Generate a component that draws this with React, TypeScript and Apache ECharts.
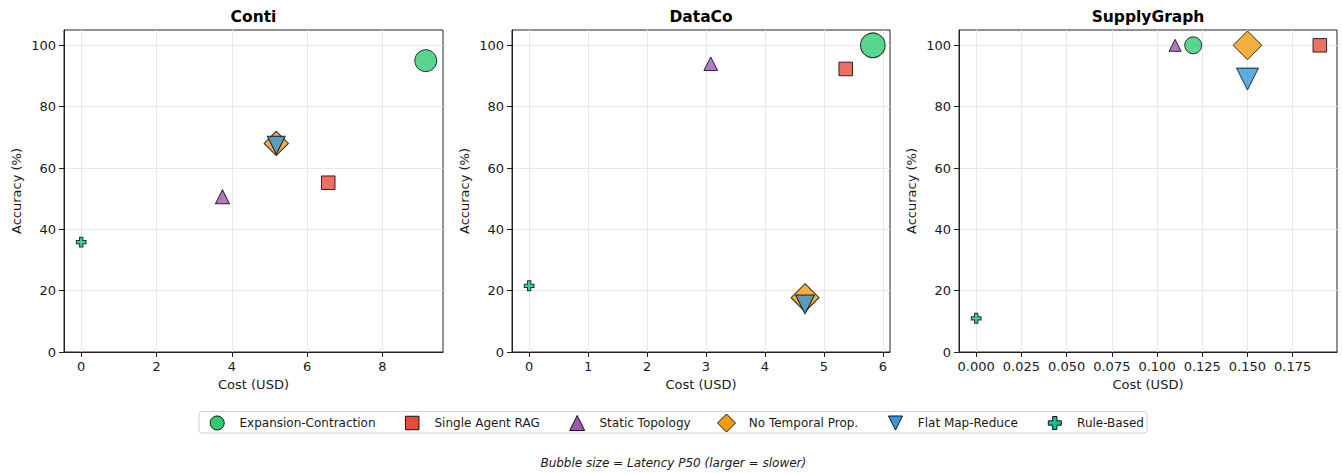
import React, { useEffect, useRef } from "react";
import * as echarts from "echarts";

// ---------- data ----------
const methods = [
  "Expansion-Contraction",
  "Single Agent RAG",
  "Static Topology",
  "No Temporal Prop.",
  "Flat Map-Reduce",
  "Rule-Based",
];
const datasets = ["Conti", "DataCo", "SupplyGraph"];

// order follows `methods`
const contiCost = [9.15, 6.56, 3.75, 5.18, 5.18, 0];
const contiAccuracy = [95, 55.2, 50.6, 68, 67.4, 35.8];
const contiLatency = [30, 11.5, 12.2, 18.5, 20.2, 6];

const dataCoCost = [5.83, 5.37, 3.08, 4.68, 4.68, 0];
const dataCoAccuracy = [100, 92.3, 94, 17.7, 15.5, 21.6];
const dataCoLatency = [38, 11.5, 11.7, 24.5, 22.5, 6];

const supplyCost = [0.12, 0.19, 0.11, 0.15, 0.15, 0];
const supplyAccuracy = [100, 100, 100, 100, 89, 11];
const supplyLatency = [18, 11.5, 9, 25.8, 30, 6];

const contiXTicks = [0, 2, 4, 6, 8];
const dataCoXTicks = [0, 1, 2, 3, 4, 5, 6];
const supplyXTicks = [0, 0.025, 0.05, 0.075, 0.1, 0.125, 0.15, 0.175];
const yTicks = [0, 20, 40, 60, 80, 100];

// ---------- styles ----------
const FONT = "DejaVu Sans";
const colors = ["#2ecc71", "#e74c3c", "#9b59b6", "#f39c12", "#3498db", "#1abc9c"];
const TRI_DOWN = "path://M0,0L2,0L1,2Z";
const PLUS = "path://M1,0L2,0L2,1L3,1L3,2L2,2L2,3L1,3L1,2L0,2L0,1L1,1Z";
const symbols = ["circle", "rect", "triangle", "diamond", TRI_DOWN, PLUS];
const shapeFactor = [1, 1, 1, 1.414, 1, 1];

const panels = [
  { name: datasets[0], cost: contiCost, acc: contiAccuracy, lat: contiLatency, ticks: contiXTicks, dec: 0, step: 2 },
  { name: datasets[1], cost: dataCoCost, acc: dataCoAccuracy, lat: dataCoLatency, ticks: dataCoXTicks, dec: 0, step: 1 },
  { name: datasets[2], cost: supplyCost, acc: supplyAccuracy, lat: supplyLatency, ticks: supplyXTicks, dec: 3, step: 0.025 },
];
const gridBoxes = [
  { left: 64, width: 379 },
  { left: 512, width: 378 },
  { left: 959, width: 378 },
];
const GRID_TOP = 30;
const GRID_H = 322;
const legendCenters = [216.7, 411.7, 576.7, 726, 895, 1054.3];
const legendIconSizes = [14, 13.5, 15, 18, 14, 13];
const LEGEND_Y = 422.5;
const LEGEND_TEXT_OFFSET = 22.3;

function buildOption() {
  const grid: any[] = [];
  const xAxis: any[] = [];
  const yAxis: any[] = [];
  const series: any[] = [];
  const graphic: any[] = [];

  panels.forEach((p, i) => {
    const g = gridBoxes[i];
    grid.push({
      left: g.left,
      top: GRID_TOP,
      width: g.width,
      height: GRID_H,
      show: true,
      borderColor: "#222",
      borderWidth: 1,
      backgroundColor: "transparent",
    });
    const lo = Math.min(...p.cost);
    const hi = Math.max(...p.cost);
    const pad = (hi - lo) * 0.05;
    xAxis.push({
      type: "value",
      gridIndex: i,
      min: lo - pad,
      max: hi + pad,
      minInterval: p.step,
      maxInterval: p.step,
      name: "Cost (USD)",
      nameLocation: "middle",
      nameGap: 26,
      nameTextStyle: { fontFamily: FONT, fontSize: 13, color: "#1a1a1a" },
      axisLine: { show: true, onZero: false, lineStyle: { color: "#222", width: 1 } },
      axisTick: { show: true, length: 5, lineStyle: { color: "#222" }, customValues: p.ticks },
      axisLabel: {
        customValues: p.ticks,
        formatter: (v: number) => v.toFixed(p.dec),
        fontFamily: FONT,
        fontSize: 13,
        color: "#1a1a1a",
        margin: 8,
      },
      splitLine: { show: true, lineStyle: { color: "#e8e8e8", width: 1 } },
    });
    yAxis.push({
      type: "value",
      gridIndex: i,
      min: 0,
      max: 105,
      minInterval: 20,
      maxInterval: 20,
      name: "Accuracy (%)",
      nameLocation: "middle",
      nameRotate: 90,
      nameGap: 41,
      nameTextStyle: { fontFamily: FONT, fontSize: 13, color: "#1a1a1a" },
      axisLine: { show: true, onZero: false, lineStyle: { color: "#222", width: 1 } },
      axisTick: { show: true, length: 5, lineStyle: { color: "#222" }, customValues: yTicks },
      axisLabel: {
        customValues: yTicks,
        fontFamily: FONT,
        fontSize: 13,
        color: "#1a1a1a",
        margin: 8,
      },
      splitLine: { show: true, lineStyle: { color: "#e8e8e8", width: 1 } },
    });

    methods.forEach((m, k) => {
      series.push({
        type: "scatter",
        name: m,
        xAxisIndex: i,
        yAxisIndex: i,
        symbol: symbols[k],
        symbolSize: (val: number[]) => 4 * Math.sqrt(val[2]) * shapeFactor[k],
        data: [[p.cost[k], p.acc[k], p.lat[k]]],
        itemStyle: { color: colors[k], opacity: 0.8, borderColor: "#000", borderWidth: 1 },
        emphasis: { disabled: true },
        z: 2 + k * 0.01,
      });
    });

    graphic.push({
      type: "text",
      x: g.left + g.width / 2,
      y: 16.5,
      style: {
        text: p.name,
        fontFamily: FONT,
        fontSize: 15.5,
        fontWeight: "bold",
        fill: "#000",
        align: "center",
        verticalAlign: "middle",
      },
    });
  });

  graphic.push({
    type: "rect",
    shape: { x: 199, y: 411.5, width: 948, height: 21.5, r: 3 },
    style: { fill: "#fff", stroke: "#d0d0d0", lineWidth: 1 },
    z: -1,
  });
  graphic.push({
    type: "text",
    x: 673.3,
    y: 462.5,
    style: {
      text: "Bubble size = Latency P50 (larger = slower)",
      fontFamily: FONT,
      fontSize: 12,
      fontStyle: "italic",
      fill: "#1a1a1a",
      align: "center",
      verticalAlign: "middle",
    },
  });

  const legend = methods.map((m, k) => {
    const s = legendIconSizes[k];
    return {
      show: true,
      left: legendCenters[k] - s / 2,
      top: LEGEND_Y - s / 2,
      padding: 0,
      itemWidth: s,
      itemHeight: s,
      selectedMode: false,
      data: [
        {
          name: m,
          icon: symbols[k],
          itemStyle: { color: colors[k], opacity: 1, borderColor: "#111", borderWidth: 1 },
        },
      ],
      textStyle: {
        fontFamily: FONT,
        fontSize: 12,
        color: "#1a1a1a",
        padding: [0, 0, 0, LEGEND_TEXT_OFFSET - s / 2 - 5],
      },
    };
  });

  return {
    animation: false,
    backgroundColor: "#fff",
    grid,
    xAxis,
    yAxis,
    series,
    legend,
    graphic,
  };
}

export default function App() {
  const ref = useRef<HTMLDivElement>(null);
  useEffect(() => {
    if (!ref.current) return;
    const chart = echarts.init(ref.current, undefined, { renderer: "svg" });
    chart.setOption(buildOption() as any);
    return () => chart.dispose();
  }, []);
  return (
    <div
      ref={ref}
      style={{ position: "fixed", left: 0, top: 0, width: 1343, height: 474 }}
    />
  );
}
